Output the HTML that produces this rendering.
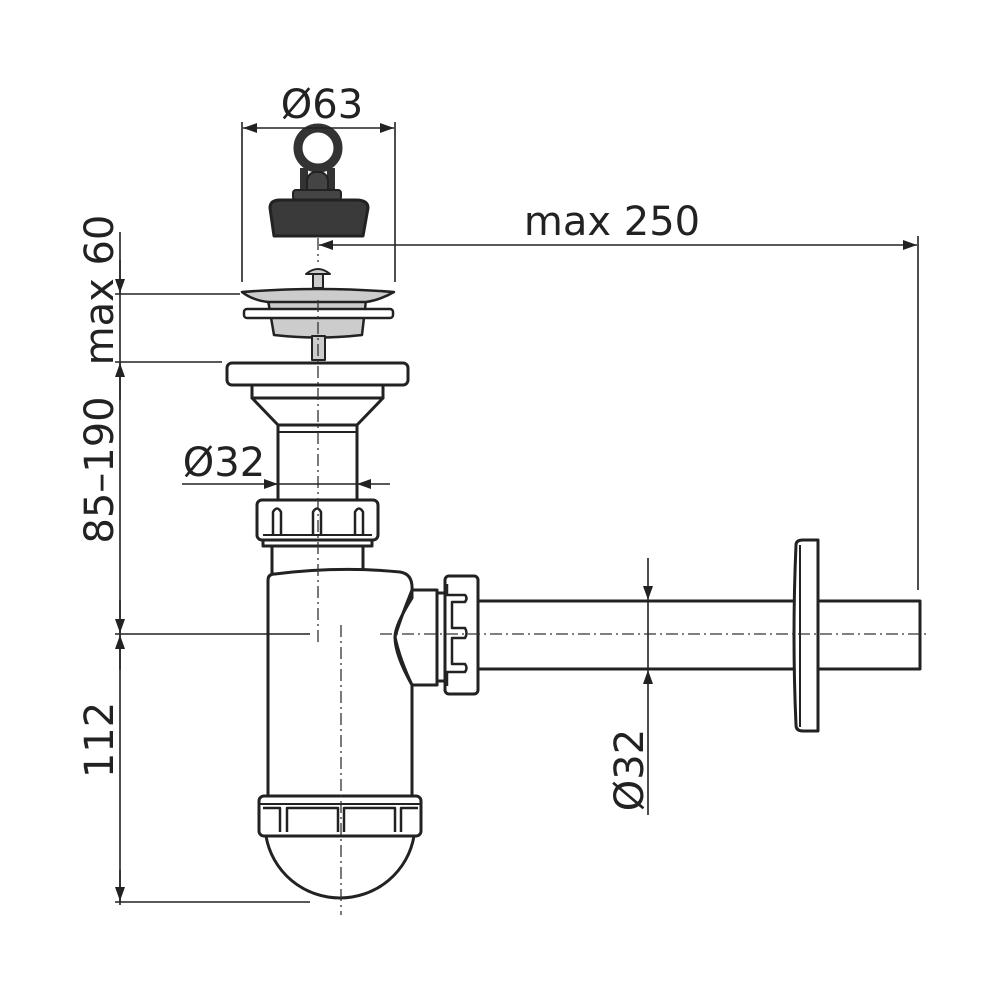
<!DOCTYPE html>
<html><head><style>
html,body{margin:0;padding:0;background:#fff;}
svg{display:block;}
text{font-family:"DejaVu Sans","Liberation Sans",sans-serif;fill:#222;}
</style></head><body>
<svg width="1000" height="1000" viewBox="0 0 1000 1000" xmlns="http://www.w3.org/2000/svg">
<defs>
<marker id="a" markerWidth="14" markerHeight="10" refX="14" refY="5" orient="auto" markerUnits="userSpaceOnUse">
<path d="M0,0 L14,5 L0,10 Z" fill="#222"/></marker>
</defs>
<!-- parts -->
<g stroke="#222" stroke-width="3" fill="#fff" stroke-linejoin="round">
<!-- stopper -->
<path d="M304,194 L304,168 M331,194 L331,168" stroke="#333" stroke-width="8"/>
<circle cx="318" cy="148" r="20" fill="none" stroke="#333" stroke-width="9"/>
<rect x="307" y="172" width="21" height="26" rx="9" fill="#444" stroke-width="2"/>
<rect x="293" y="190" width="48" height="10" rx="3" fill="#444" stroke-width="2"/>
<path d="M270,208 Q270,200 280,200 L356,200 Q368,200 368,208 L363,236 L274,236 Z" fill="#3a3a3a"/>
<!-- grate -->
<path d="M306,274 Q318,264 330,274 Z" fill="#ccc" stroke-width="2"/>
<rect x="313" y="274" width="10" height="14" fill="#ccc" stroke-width="2"/>
<path d="M268,300 L366,300 L362,335 Q318,340 274,335 Z" fill="#ccc" stroke-width="2.5"/>
<path d="M242,292 Q318,286 394,292 Q380,300 366,302 L268,302 Q252,300 242,292 Z" fill="#ccc" stroke-width="2.5"/>
<rect x="244" y="309" width="149" height="9" rx="3" fill="#fff" stroke-width="2.5"/>
<rect x="312" y="336" width="13" height="24" fill="#ccc" stroke-width="2"/>
<!-- outlet -->
<rect x="227" y="363" width="181" height="22" rx="5"/>
<rect x="252" y="385" width="131" height="13"/>
<path d="M252,398 L278,425 L357,425 L383,398 Z"/>
<rect x="278" y="425" width="79" height="75"/>
<line x1="278" y1="432" x2="357" y2="432" stroke-width="2"/>
<!-- top nut -->
<rect x="257" y="500" width="121" height="40" rx="5"/>
<rect x="263" y="540" width="109" height="6"/>
<path d="M273,535 L273,512 Q277,505 281,512 L281,535 M313,535 L313,512 Q317,505 321,512 L321,535 M355,535 L355,512 Q359,505 363,512 L363,535" fill="none" stroke-width="2.5"/>
<line x1="263" y1="535" x2="372" y2="535" stroke-width="2"/>
<rect x="272" y="546" width="91" height="28"/>
<!-- body -->
<path d="M268,580 Q268,574 275,574 Q340,566 400,572 Q413,574 412,590 L412,796 L268,796 Z"/>
<path d="M412,598 Q395,625 395,637 Q395,655 412,685 L437,685 L437,590 L412,590 Z"/>
<path d="M412,590 Q400,620 395,637 Q400,660 412,685" fill="none"/>
<!-- side nut -->
<rect x="437" y="593" width="8" height="88"/>
<rect x="445" y="576" width="33" height="118" rx="4"/>
<path d="M447,584 L447,595 L465,595 Q468,598 465,602 L452,602 L452,628 L465,628 Q468,633 465,638 L452,638 L452,664 L465,664 Q468,668 465,672 L447,672 L447,686" fill="none" stroke-width="2.5"/>
<!-- pipe -->
<rect x="478" y="601" width="442" height="68"/>
<path d="M796,545 Q796,540 803,540 L818,540 L818,731 L803,731 Q796,731 796,725 Q792,636 796,545 Z"/>
<line x1="800" y1="545" x2="800" y2="727" stroke-width="2"/>
<!-- bottom nut -->
<rect x="259" y="796" width="162" height="40" rx="5"/>
<line x1="259" y1="804" x2="421" y2="804" stroke-width="2"/>
<path d="M263,808 L280,808 L280,832 M287,832 L287,808 L338,808 L338,832 M344,832 L344,808 L395,808 L395,832 M401,832 L401,808 L418,808" fill="none" stroke-width="2.5"/>
<path d="M266,836 A75,74 0 0 0 414,836 Z"/>
</g>
<g stroke="#333" stroke-width="1.3" stroke-dasharray="12,4,2,4" fill="none">
<line x1="318" y1="238" x2="318" y2="262"/>
<line x1="318" y1="300" x2="318" y2="645"/>
<line x1="380" y1="634" x2="930" y2="634"/>
<line x1="341" y1="625" x2="341" y2="915"/>
</g>
<g stroke="#222" stroke-width="1.6" fill="none">
<!-- Ø63 -->
<line x1="242" y1="122" x2="242" y2="282"/>
<line x1="395" y1="122" x2="395" y2="282"/>
<line x1="318" y1="128" x2="243" y2="128" marker-end="url(#a)"/>
<line x1="318" y1="128" x2="394" y2="128" marker-end="url(#a)"/>
<!-- max 250 -->
<line x1="600" y1="245" x2="319" y2="245" marker-end="url(#a)"/>
<line x1="600" y1="245" x2="917" y2="245" marker-end="url(#a)"/>
<line x1="918" y1="236" x2="918" y2="590"/>
<!-- left dims -->
<line x1="120" y1="232" x2="120" y2="905"/>
<line x1="115" y1="294" x2="240" y2="294"/>
<line x1="115" y1="362" x2="222" y2="362"/>
<line x1="115" y1="634" x2="310" y2="634"/>
<line x1="115" y1="902" x2="310" y2="902"/>
<line x1="120" y1="260" x2="120" y2="293" marker-end="url(#a)"/>
<line x1="120" y1="400" x2="120" y2="363" marker-end="url(#a)"/>
<line x1="120" y1="600" x2="120" y2="633" marker-end="url(#a)"/>
<line x1="120" y1="670" x2="120" y2="635" marker-end="url(#a)"/>
<line x1="120" y1="870" x2="120" y2="901" marker-end="url(#a)"/>
<!-- Ø32 top -->
<line x1="182" y1="484" x2="278" y2="484" marker-end="url(#a)"/>
<line x1="390" y1="484" x2="357" y2="484" marker-end="url(#a)"/>
<line x1="278" y1="484" x2="357" y2="484"/>
<!-- Ø32 right -->
<line x1="648" y1="558" x2="648" y2="600" marker-end="url(#a)"/>
<line x1="648" y1="815" x2="648" y2="670" marker-end="url(#a)"/>
<line x1="648" y1="600" x2="648" y2="670"/>
</g>
<!-- text -->
<text x="322" y="118" font-size="40" text-anchor="middle">Ø63</text>
<text x="612" y="235" font-size="40" text-anchor="middle">max 250</text>
<text x="224" y="476" font-size="40" text-anchor="middle">Ø32</text>
<text transform="translate(113,290) rotate(-90)" font-size="40" text-anchor="middle">max 60</text>
<text transform="translate(113,470) rotate(-90)" font-size="40" text-anchor="middle">85–190</text>
<text transform="translate(113,740) rotate(-90)" font-size="40" text-anchor="middle">112</text>
<text transform="translate(643,770) rotate(-90)" font-size="40" text-anchor="middle">Ø32</text>
</svg>
</body></html>
